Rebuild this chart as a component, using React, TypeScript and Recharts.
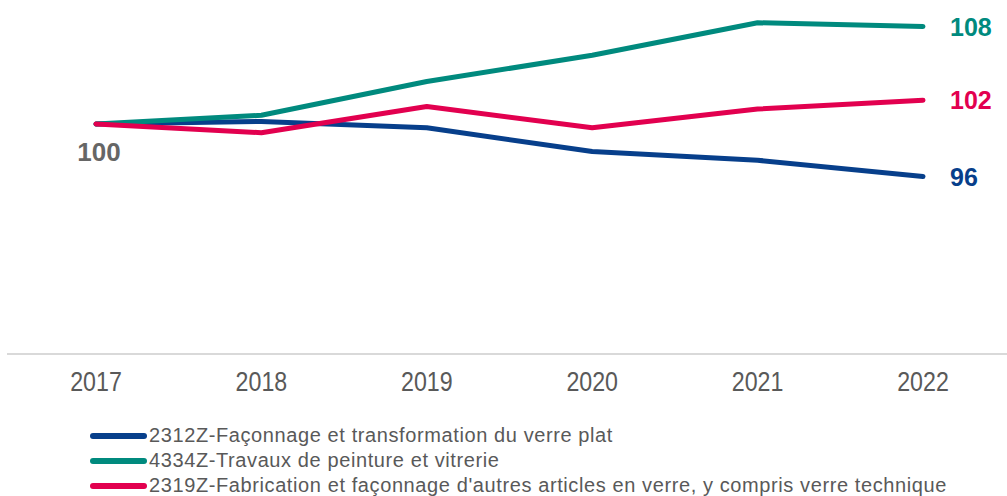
import { LineChart, Line, XAxis, YAxis } from "recharts";

const YEARS = ["2017", "2018", "2019", "2020", "2021", "2022"];
const VERRE_PLAT = [100, 100.2, 99.7, 97.8, 97.1, 95.8];
const PEINTURE_VITRERIE = [100, 100.7, 103.4, 105.5, 108.1, 107.8];
const AUTRES_ARTICLES = [100, 99.3, 101.4, 99.7, 101.2, 101.9];

const SERIES = [
  { key: "plat", name: "2312Z-Façonnage et transformation du verre plat", color: "#073f8b", values: VERRE_PLAT },
  { key: "vitrerie", name: "4334Z-Travaux de peinture et vitrerie", color: "#008a7e", values: PEINTURE_VITRERIE },
  { key: "autres", name: "2319Z-Fabrication et façonnage d'autres articles en verre, y compris verre technique", color: "#e2004f", values: AUTRES_ARTICLES },
];

const data = YEARS.map((year, i) => {
  const row: Record<string, string | number> = { year };
  SERIES.forEach((s) => {
    row[s.key] = s.values[i];
  });
  return row;
});

const FONT = "'Liberation Sans', Arial, sans-serif";
const GREY = "#595959";

function YearTick(props: any) {
  const { x, y, payload } = props;
  return (
    <text
      transform={`translate(${x},${y + 29}) scale(0.86,1)`}
      textAnchor="middle"
      fontSize={27}
      fontFamily={FONT}
      fill={GREY}
    >
      {payload.value}
    </text>
  );
}

const endLabel = (color: string, showStart: boolean) => (props: any) => {
  const { x, y, index, value } = props;
  if (index === YEARS.length - 1) {
    return (
      <text x={x + 27} y={y + 9} fontSize={25} fontWeight="bold" fontFamily={FONT} fill={color}>
        {Math.round(value)}
      </text>
    );
  }
  if (index === 0 && showStart) {
    return (
      <text x={x + 3} y={y + 37} textAnchor="middle" fontSize={26} fontWeight="bold" fontFamily={FONT} fill="#666666">
        {Math.round(value)}
      </text>
    );
  }
  return null;
};

export default function App() {
  return (
    <div style={{ position: "absolute", left: 0, top: 0, width: 1007, height: 496, background: "#fff" }}>
      <LineChart width={1007} height={496} data={data} margin={{ top: 4, right: 0, bottom: 102, left: 7 }}>
        <XAxis
          dataKey="year"
          height={40}
          padding={{ left: 89, right: 84 }}
          axisLine={{ stroke: "#d9d9d9", strokeWidth: 2 }}
          tickLine={false}
          tick={<YearTick />}
          interval={0}
        />
        <YAxis hide domain={[81.6, 109.6]} />
        {SERIES.map((s, i) => (
          <Line
            key={s.key}
            dataKey={s.key}
            name={s.name}
            stroke={s.color}
            strokeWidth={5}
            strokeLinecap="round"
            strokeLinejoin="round"
            dot={false}
            type="linear"
            isAnimationActive={false}
            label={endLabel(s.color, i === 0)}
          />
        ))}
      </LineChart>
      <div style={{ position: "absolute", left: 90, top: 423, fontFamily: FONT, fontSize: 20, color: GREY, letterSpacing: 0.6 }}>
        {SERIES.map((s) => (
          <div key={s.key} style={{ display: "flex", alignItems: "center", height: 25, whiteSpace: "nowrap" }}>
            <span style={{ display: "inline-block", width: 57, height: 6, borderRadius: 3, background: s.color, marginRight: 2 }} />
            <span>{s.name}</span>
          </div>
        ))}
      </div>
    </div>
  );
}
